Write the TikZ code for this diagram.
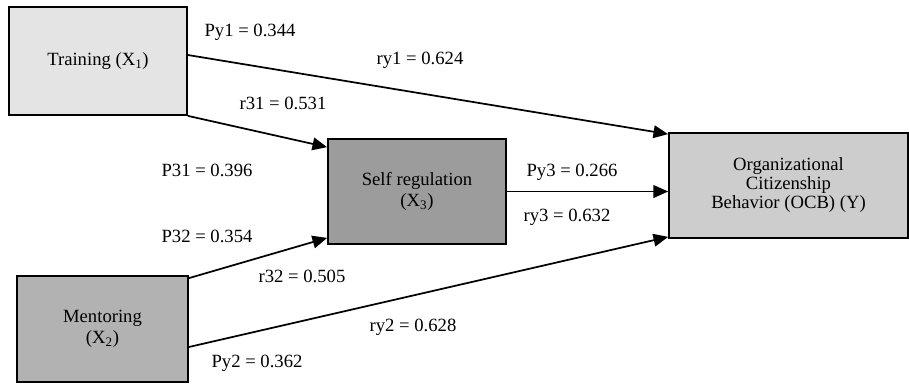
\documentclass[tikz,border=0pt]{standalone}
\usepackage{fontspec}
\setmainfont{Liberation Serif}
\usetikzlibrary{arrows.meta}
\definecolor{fTrain}{HTML}{E4E4E4}
\definecolor{fMent}{HTML}{B2B2B2}
\definecolor{fSelf}{HTML}{9C9C9C}
\definecolor{fOcb}{HTML}{CDCDCD}
\begin{document}
\begin{tikzpicture}[x=0.75pt,y=-0.75pt,
  box/.style={draw=black,line width=1.3pt,align=center,inner sep=0pt,
    font=\fontsize{14}{15.5}\selectfont},
  lab/.style={font=\fontsize{14}{16}\selectfont,inner sep=0pt},
  conn/.style={line width=1.3pt,-{Triangle[length=11pt,width=9.5pt]}}]
\useasboundingbox (0,0) rectangle (909,383);
\node[box,fill=fTrain,minimum width=133.5pt,minimum height=81pt] (train) at (98,61) {Training (X\textsubscript{1})};
\node[box,fill=fMent,minimum width=128.25pt,minimum height=79.5pt] (ment) at (102.5,329) {Mentoring\\(X\textsubscript{2})};
\node[box,fill=fSelf,minimum width=133.5pt,minimum height=78.75pt] (self) at (417,191.5) {Self regulation\\(X\textsubscript{3})};
\node[box,fill=fOcb,minimum width=179.25pt,minimum height=78.75pt] (ocb) at (788.5,185.5) {\raisebox{11pt}{\begin{tabular}{@{}c@{}}Organizational\\[-1.5pt]Citizenship\\[-1.5pt]Behavior (OCB) (Y)\end{tabular}}};
\draw[conn] ([yshift=4.5pt]train.east) -- ([yshift=-1.5pt]ocb.north west);
\draw[conn] (train.south east) -- ([yshift=-6.75pt]self.north west);
\draw[conn] ([yshift=-2.25pt]ment.north east) -- ([yshift=5.25pt]self.south west);
\draw[conn] ([yshift=-13.5pt]ment.east) -- ([yshift=1.5pt]ocb.south west);
\draw[conn] (self.east) -- (ocb.west |- self.east);
\node[lab] (l1) at (250,32) {Py1 = 0.344};
\node[lab] (l2) at (420,60) {ry1 = 0.624};
\node[lab] (l3) at (283,103) {r31 = 0.531};
\node[lab] (l4) at (207,170) {P31 = 0.396};
\node[lab] (l5) at (572,172) {Py3 = 0.266};
\node[lab] (l6) at (567,217) {ry3 = 0.632};
\node[lab] (l7) at (207,236) {P32 = 0.354};
\node[lab] (l8) at (302,276) {r32 = 0.505};
\node[lab] (l9) at (413,327) {ry2 = 0.628};
\node[lab] (l10) at (257,363) {Py2 = 0.362};
\end{tikzpicture}
\end{document}
